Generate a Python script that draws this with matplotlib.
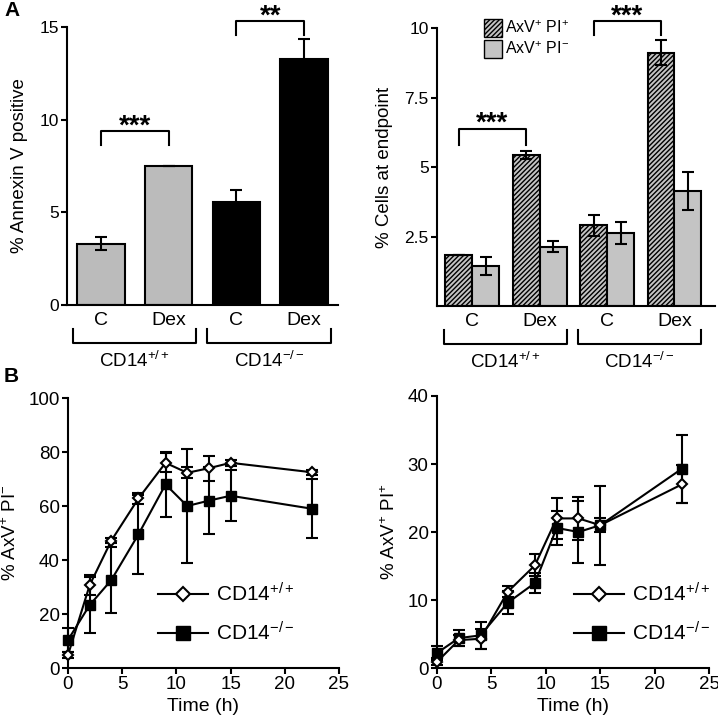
import numpy as np
import matplotlib
matplotlib.use('Agg')
import matplotlib.pyplot as plt
import matplotlib.transforms as mtransforms
from matplotlib.patches import Patch
from matplotlib.lines import Line2D

plt.rcParams['font.family'] = ['Liberation Sans', 'DejaVu Sans']
plt.rcParams['mathtext.fontset'] = 'custom'
plt.rcParams['mathtext.rm'] = 'Liberation Sans'
plt.rcParams['mathtext.it'] = 'Liberation Sans'
plt.rcParams['hatch.linewidth'] = 1.0

# ---- data ----
conditions = ['C', 'Dex', 'C', 'Dex']
genotypes = ['CD14$^{+/+}$', 'CD14$^{-/-}$']

annexin_mean = [3.3, 7.5, 5.55, 13.3]
annexin_err = [0.35, 0.0, 0.65, 1.05]

pi_pos_mean = [1.83, 5.43, 2.91, 9.12]
pi_pos_err = [0.0, 0.14, 0.38, 0.45]
pi_neg_mean = [1.44, 2.13, 2.64, 4.15]
pi_neg_err = [0.31, 0.2, 0.4, 0.68]

time_h = [0, 2, 4, 6.5, 9, 11, 13, 15, 22.5]
neg_wt = [4.8, 30.7, 47.2, 62.8, 76.0, 72.3, 74.0, 76.0, 72.5]
neg_wt_err = [1.0, 3.7, 1.0, 2.0, 3.5, 2.0, 4.7, 1.0, 1.0]
neg_ko = [10.4, 23.3, 32.6, 49.5, 68.0, 60.0, 62.0, 63.8, 59.0]
neg_ko_err = [4.5, 10.5, 12.3, 14.5, 12.0, 21.0, 12.5, 9.5, 11.0]

pos_wt = [0.9, 4.1, 4.3, 11.2, 15.1, 22.0, 22.0, 21.0, 27.0]
pos_wt_err = [0.5, 0.8, 1.5, 0.8, 1.6, 3.0, 3.2, 1.0, 2.8]
pos_ko = [2.2, 4.4, 4.8, 9.6, 12.5, 20.6, 20.0, 21.0, 29.3]
pos_ko_err = [1.0, 1.2, 2.0, 1.7, 1.5, 2.5, 4.6, 5.8, 5.0]

LW = 1.5


def style_axes(ax, fs):
    for s in ['top', 'right']:
        ax.spines[s].set_visible(False)
    for s in ['left', 'bottom']:
        ax.spines[s].set_linewidth(LW)
    ax.tick_params(width=LW, length=4, labelsize=fs, direction='out', pad=2)


def group_labels(ax):
    tr = mtransforms.blended_transform_factory(ax.transData, ax.transAxes)
    for i, c in enumerate(conditions):
        ax.text(i, -0.054, c, transform=tr, ha='center', va='center', fontsize=14)
    for g, (x0, x1) in enumerate([(-0.41, 1.41), (1.57, 3.4)]):
        ax.plot([x0, x0, x1, x1], [-0.086, -0.136, -0.136, -0.086], color='black',
                lw=LW, transform=tr, clip_on=False)
        ax.text((x0 + x1) / 2, -0.2, genotypes[g], transform=tr, ha='center',
                va='center', fontsize=13.5)


def sig(ax, x0, x1, ytop, yleg, ystar, stars):
    ax.plot([x0, x0, x1, x1], [yleg, ytop, ytop, yleg], color='black', lw=LW, clip_on=False)
    ax.text((x0 + x1) / 2, ystar, stars, ha='center', va='center', fontsize=20,
            fontweight='bold', clip_on=False)


fig = plt.figure(figsize=(7.18, 7.2), dpi=100)

# ---- A left ----
ax1 = fig.add_axes([0.0933, 0.5764, 0.3775, 0.3861])
x = np.arange(4)
ax1.bar(x, annexin_mean, width=0.7, color=['#bbbbbb', '#bbbbbb', 'black', 'black'],
        edgecolor='black', linewidth=LW, zorder=2)
ax1.errorbar(x, annexin_mean, yerr=annexin_err, fmt='none', ecolor='black',
             elinewidth=LW, capsize=4.5, capthick=LW, zorder=3)
ax1.set_xlim(-0.5, 3.5)
ax1.set_ylim(0, 15)
ax1.set_yticks([0, 5, 10, 15])
ax1.set_xticks([])
ax1.set_ylabel('% Annexin V positive', fontsize=13.5, labelpad=8)
style_axes(ax1, 12.5)
group_labels(ax1)
sig(ax1, 0, 1, 9.39, 8.63, 9.6, '***')
sig(ax1, 2, 3, 15.34, 14.57, 15.55, '**')

# ---- A right ----
ax2 = fig.add_axes([0.6086, 0.575, 0.3872, 0.386])
ax2.bar(x - 0.2, pi_pos_mean, width=0.4, color='#c4c4c4', hatch='///////',
        edgecolor='black', linewidth=LW, zorder=2)
ax2.bar(x + 0.2, pi_neg_mean, width=0.4, color='#c4c4c4',
        edgecolor='black', linewidth=LW, zorder=2)
ax2.errorbar(x - 0.2, pi_pos_mean, yerr=pi_pos_err, fmt='none', ecolor='black',
             elinewidth=LW, capsize=4.5, capthick=LW, zorder=3)
ax2.errorbar(x + 0.2, pi_neg_mean, yerr=pi_neg_err, fmt='none', ecolor='black',
             elinewidth=LW, capsize=4.5, capthick=LW, zorder=3)
ax2.set_xlim(-0.52, 3.6)
ax2.set_ylim(0, 10)
ax2.set_yticks([2.5, 5, 7.5, 10])
ax2.set_yticklabels(['2.5', '5', '7.5', '10'])
ax2.set_xticks([])
ax2.set_ylabel('% Cells at endpoint', fontsize=13.5, labelpad=8)
style_axes(ax2, 12.5)
group_labels(ax2)
sig(ax2, -0.2, 0.8, 6.37, 5.8, 6.57, '***')
sig(ax2, 1.8, 2.8, 10.26, 9.75, 10.43, '***')
fig.legend(handles=[Patch(facecolor='#c4c4c4', hatch='///////', edgecolor='black', linewidth=1),
                    Patch(facecolor='#c4c4c4', edgecolor='black', linewidth=1)],
           labels=['AxV$^{+}$ PI$^{+}$', 'AxV$^{+}$ PI$^{-}$'],
           loc='upper left', bbox_to_anchor=(484 / 718, 1 - 19 / 720), frameon=False,
           fontsize=11.5, handlelength=1.15, handleheight=1.35, handletextpad=0.15,
           borderpad=0, borderaxespad=0, labelspacing=0.2)

# ---- B ----
def time_panel(ax, wt, wt_err, ko, ko_err, ymax, step, ylabel, legend_xy):
    ax.errorbar(time_h, ko, yerr=ko_err, color='black', lw=LW, marker='s', ms=7,
                mfc='black', mec='black', capsize=4.5, capthick=LW, elinewidth=LW,
                clip_on=False, zorder=3)
    ax.errorbar(time_h, wt, yerr=wt_err, color='black', lw=LW, marker='D', ms=5.5,
                mfc='white', mec='black', mew=1.5, capsize=4.5, capthick=LW,
                elinewidth=LW, clip_on=False, zorder=4)
    ax.set_xlim(0, 25)
    ax.set_ylim(0, ymax)
    ax.set_xticks(range(0, 26, 5))
    ax.set_yticks(np.arange(0, ymax + 1, step))
    ax.set_xlabel('Time (h)', fontsize=14, labelpad=3)
    ax.set_ylabel(ylabel, fontsize=13.5, labelpad=6)
    style_axes(ax, 13.5)
    h = [Line2D([], [], color='black', lw=LW, marker='D', ms=7, mfc='white', mec='black', mew=1.5),
         Line2D([], [], color='black', lw=LW, marker='s', ms=10, mfc='black', mec='black')]
    fig.legend(handles=h, labels=['CD14$^{+/+}$', 'CD14$^{-/-}$'], loc='upper left',
               bbox_to_anchor=legend_xy, frameon=False, fontsize=15, handlelength=2.4,
               handletextpad=0.4, borderpad=0, borderaxespad=0, labelspacing=0.75)


ax3 = fig.add_axes([0.0947, 0.0722, 0.3774, 0.375])
time_panel(ax3, neg_wt, neg_wt_err, ko=neg_ko, ko_err=neg_ko_err, ymax=100, step=20,
           ylabel='% AxV$^{+}$ PI$^{-}$', legend_xy=(158 / 718, 1 - 582 / 720))

ax4 = fig.add_axes([0.6086, 0.0722, 0.3789, 0.3778])
time_panel(ax4, pos_wt, pos_wt_err, ko=pos_ko, ko_err=pos_ko_err, ymax=40, step=10,
           ylabel='% AxV$^{+}$ PI$^{+}$', legend_xy=(574 / 718, 1 - 582 / 720))

fig.text(4 / 718, 1 - 11 / 720, 'A', fontsize=15, fontweight='bold', va='center')
fig.text(4 / 718, 1 - 377 / 720, 'B', fontsize=15, fontweight='bold', va='center')

fig.savefig('out.png', dpi=100)
